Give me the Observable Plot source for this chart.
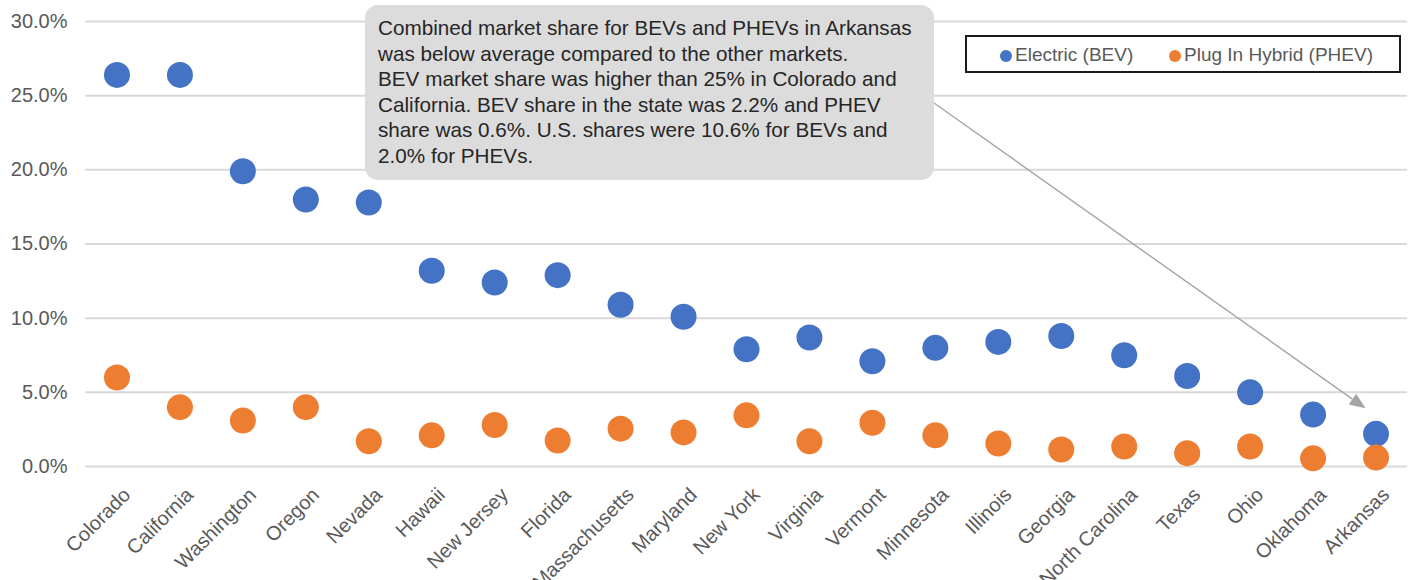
<!DOCTYPE html>
<html>
<head>
<meta charset="utf-8">
<script src="https://cdn.jsdelivr.net/npm/d3@7"></script>
<script src="https://cdn.jsdelivr.net/npm/@observablehq/plot@0.6"></script>
<style>
  html, body { margin: 0; padding: 0; background: #fff; }
  #wrap { position: relative; width: 1416px; height: 580px; font-family: "Liberation Sans", Arial, sans-serif; }
  #note { position: absolute; left: 365px; top: 5px; width: 569px; height: 175px; box-sizing: border-box;
          background: #dcdcdd; border-radius: 13px; padding: 10px 0 0 13px; color: #262626;
          font-size: 20.7px; line-height: 25.6px; white-space: nowrap; }
  #legend { position: absolute; left: 965px; top: 35px; width: 436px; height: 38px; box-sizing: border-box;
            border: 2px solid #1a1a1a; font-size: 19px; color: #595959; }
  #legend span.item { position: absolute; top: 7px; white-space: nowrap; }
  #legend i { display: inline-block; width: 12px; height: 12px; border-radius: 50%; margin-right: 3px; vertical-align: -1px; }
</style>
</head>
<body>
<div id="wrap"></div>
<script>
const states = ["Colorado","California","Washington","Oregon","Nevada","Hawaii","New Jersey","Florida","Massachusetts","Maryland","New York","Virginia","Vermont","Minnesota","Illinois","Georgia","North Carolina","Texas","Ohio","Oklahoma","Arkansas"];
const bev  = [26.4,26.4,19.9,18.0,17.8,13.2,12.4,12.9,10.9,10.1,7.9,8.7,7.1,8.0,8.4,8.8,7.5,6.1,5.0,3.5,2.2];
const phev = [6.0,4.0,3.1,4.0,1.7,2.1,2.8,1.75,2.55,2.3,3.45,1.7,2.95,2.1,1.55,1.15,1.35,0.9,1.35,0.55,0.6];
const seriesNames = ["Electric (BEV)","Plug In Hybrid (PHEV)"];
const seriesColors = ["#4472C4","#ED7D31"];
const yTicks = [0,5,10,15,20,25,30];
const noteLines = [
  "Combined market share for BEVs and PHEVs in Arkansas",
  "was below average compared to the other markets.",
  "BEV market share was higher than 25% in Colorado and",
  "California. BEV share in the state was 2.2% and PHEV",
  "share was 0.6%. U.S. shares were 10.6% for BEVs and",
  "2.0% for PHEVs."
];

const data = [];
states.forEach((s,i) => {
  data.push({state: s, series: seriesNames[0], value: bev[i]});
  data.push({state: s, series: seriesNames[1], value: phev[i]});
});

const chart = Plot.plot({
  width: 1416, height: 580,
  marginLeft: 85, marginRight: 9, marginTop: 21, marginBottom: 114,
  style: {fontFamily: "'Liberation Sans', Arial, sans-serif", fontSize: "20px", color: "#595959", background: "transparent"},
  x: {domain: states, type: "band", padding: 0, round: false, label: null},
  y: {domain: [0,30], label: null},
  color: {domain: seriesNames, range: seriesColors},
  marks: [
    Plot.gridY(yTicks, {stroke: "#d9d9d9", strokeOpacity: 1, strokeWidth: 2}),
    Plot.axisY(yTicks, {tickSize: 0, tickPadding: 18, tickFormat: d => d.toFixed(1) + "%", fill: "#595959", fontSize: 20, label: null}),
    Plot.axisX({tickSize: 0, tickRotate: -45, tickPadding: 25, dx: 10, fill: "#595959", fontSize: 20, label: null}),
    Plot.dot(data, {x: "state", y: "value", fill: "series", r: 13, stroke: "none"})
  ]
});

const wrap = document.getElementById("wrap");
wrap.appendChild(chart);

// arrow from annotation box to Arkansas
const xs = chart.scale("x"), ys = chart.scale("y");
const last = states.length - 1;
const tipX = xs.apply(states[last]) + xs.bandwidth / 2 - 10, tipY = ys.apply(bev[last]) - 25;
const svg = d3.select(chart);
const sx = 934, sy = 103;
const ang = Math.atan2(tipY - sy, tipX - sx);
const hl = 16, hw = 6.5;
const bx = tipX - hl*Math.cos(ang), by = tipY - hl*Math.sin(ang);
svg.append("line").attr("x1", sx).attr("y1", sy).attr("x2", bx).attr("y2", by)
  .attr("stroke", "#a5a5a5").attr("stroke-width", 1.4);
svg.append("path").attr("d", `M${tipX},${tipY}L${bx - hw*Math.sin(ang)},${by + hw*Math.cos(ang)}L${bx + hw*Math.sin(ang)},${by - hw*Math.cos(ang)}Z`)
  .attr("fill", "#a5a5a5");

// annotation box
const note = document.createElement("div");
note.id = "note";
note.innerHTML = noteLines.join("<br>");
wrap.appendChild(note);

// legend
const legend = document.createElement("div");
legend.id = "legend";
const lefts = [33, 202];
seriesNames.forEach((n,i) => {
  const sp = document.createElement("span");
  sp.className = "item";
  sp.style.left = lefts[i] + "px";
  sp.innerHTML = `<i style="background:${seriesColors[i]}"></i>${n}`;
  legend.appendChild(sp);
});
wrap.appendChild(legend);
</script>
</body>
</html>
